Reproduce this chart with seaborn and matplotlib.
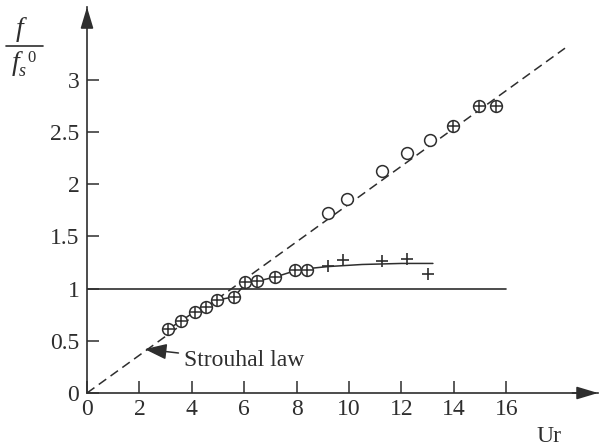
import matplotlib
matplotlib.use('Agg')
import matplotlib.pyplot as plt
from matplotlib.lines import Line2D
import seaborn as sns
import pandas as pd

# ---------------- data ----------------
# circled-plus points (circle with +)
oplus_ur = [3.09, 3.59, 4.12, 4.54, 4.96, 5.61, 6.03, 6.49, 7.18, 7.94, 8.40, 13.97, 14.96, 15.61]
oplus_f = [0.61, 0.69, 0.78, 0.82, 0.89, 0.92, 1.06, 1.07, 1.11, 1.18, 1.18, 2.56, 2.75, 2.75]
# plus-only points
plus_ur = [9.20, 9.77, 11.26, 12.21, 13.02]
plus_f = [1.22, 1.27, 1.26, 1.28, 1.14]
# open circles
circ_ur = [9.20, 9.92, 11.26, 12.21, 13.09]
circ_f = [1.72, 1.86, 2.12, 2.30, 2.42]
# solid fitted curve
curve_ur = [3.09, 3.59, 4.12, 4.54, 4.96, 5.61, 6.03, 6.49, 7.18, 7.94, 8.40, 9.20, 10.5, 12.0, 13.2]
curve_f = [0.61, 0.69, 0.78, 0.82, 0.89, 0.92, 1.04, 1.07, 1.11, 1.17, 1.19, 1.21, 1.23, 1.24, 1.24]
# Strouhal law (dashed)
strouhal_ur = [0.0, 18.24]
strouhal_f = [0.0, 3.30]
# reference line f/fs0 = 1
unit_ur = [0.0, 16.0]
unit_f = [1.0, 1.0]

x_ticks = [0, 2, 4, 6, 8, 10, 12, 14, 16]
x_labels = ['0', '2', '4', '6', '8', '10', '12', '14', '16']
y_ticks = [0, 0.5, 1, 1.5, 2, 2.5, 3]
y_labels = ['0', '0.5', '1', '1.5', '2', '2.5', '3']

# ---------------- style ----------------
sns.set_theme(style='ticks')
plt.rcParams['font.family'] = ['Liberation Serif', 'DejaVu Serif']

ink = '#2e2e2e'
fs = 17

fig = plt.figure(figsize=(6, 4.47), dpi=100)
ax = fig.add_axes([0.145, 0.1208, 0.8517, 0.8635])

# lines
sns.lineplot(x=strouhal_ur, y=strouhal_f, ax=ax, color=ink, lw=1.1,
             linestyle=(0, (6, 3.5)), estimator=None, sort=False)
sns.lineplot(x=unit_ur, y=unit_f, ax=ax, color=ink, lw=1.2, estimator=None, sort=False)
sns.lineplot(x=curve_ur, y=curve_f, ax=ax, color=ink, lw=1.1, estimator=None, sort=False)

# markers
sns.scatterplot(x=circ_ur, y=circ_f, ax=ax, marker='o', s=72, facecolor='white',
                edgecolor=ink, linewidth=1.1, zorder=5)
sns.scatterplot(x=oplus_ur, y=oplus_f, ax=ax, marker='o', s=72, facecolor='white',
                edgecolor=ink, linewidth=1.1, zorder=5)
sns.scatterplot(x=oplus_ur, y=oplus_f, ax=ax, marker='+', s=72, color=ink,
                linewidth=1.1, zorder=6)
sns.scatterplot(x=plus_ur, y=plus_f, ax=ax, marker='+', s=75, color=ink,
                linewidth=1.2, zorder=6)

# axes
ax.set_xlim(0, 19.5)
ax.set_ylim(0, 3.694)
ax.set_xticks(x_ticks)
ax.set_xticklabels(x_labels)
ax.set_yticks(y_ticks)
ax.set_yticklabels(y_labels)
ax.tick_params(axis='both', direction='in', length=8.5, width=1.1, color=ink,
               labelsize=fs, labelcolor=ink)
ax.tick_params(axis='y', pad=5.5)
ax.tick_params(axis='x', pad=4)
ax.set_xlabel('')
ax.set_ylabel('')
for side in ['top', 'right']:
    ax.spines[side].set_visible(False)
for side in ['left', 'bottom']:
    ax.spines[side].set_color(ink)
    ax.spines[side].set_linewidth(1.2)

arrow_style = dict(arrowstyle='-|>,head_length=1.0,head_width=0.3', mutation_scale=13,
                   color=ink, lw=1.2, shrinkA=0, shrinkB=0)
ax.annotate('', xy=(0, 1), xytext=(0, 0.95), xycoords='axes fraction',
            arrowprops=arrow_style, annotation_clip=False)
ax.annotate('', xy=(1, 0), xytext=(0.95, 0), xycoords='axes fraction',
            arrowprops=arrow_style, annotation_clip=False)

# Strouhal law annotation
ax.annotate('Strouhal law', xy=(2.2, 0.42), xytext=(3.72, 0.31),
            fontsize=fs, color=ink, va='center', ha='left',
            arrowprops=dict(arrowstyle='-|>,head_length=0.9,head_width=0.32',
                            mutation_scale=15, color=ink, lw=1.1,
                            shrinkA=2, shrinkB=0))

# axis titles
W, H = 600, 447
fig.text(549 / W, 1 - 436 / H, 'Ur', ha='center', va='center', fontsize=fs, color=ink)
# y label: f / f_s^0 drawn as a stacked fraction
fig.text(20 / W, 1 - 29 / H, 'f', style='italic', ha='center', va='center',
         fontsize=20, color=ink)
fig.add_artist(Line2D([6 / W, 43 / W], [1 - 46 / H, 1 - 46 / H],
                      transform=fig.transFigure, color=ink, lw=1.2))
fig.text(16 / W, 1 - 63 / H, 'f', style='italic', ha='center', va='center',
         fontsize=20, color=ink)
fig.text(22 / W, 1 - 71 / H, 's', style='italic', ha='center', va='center',
         fontsize=13, color=ink)
fig.text(32 / W, 1 - 58 / H, '0', ha='center', va='center',
         fontsize=12, color=ink)

fig.savefig('out.png', dpi=100)
